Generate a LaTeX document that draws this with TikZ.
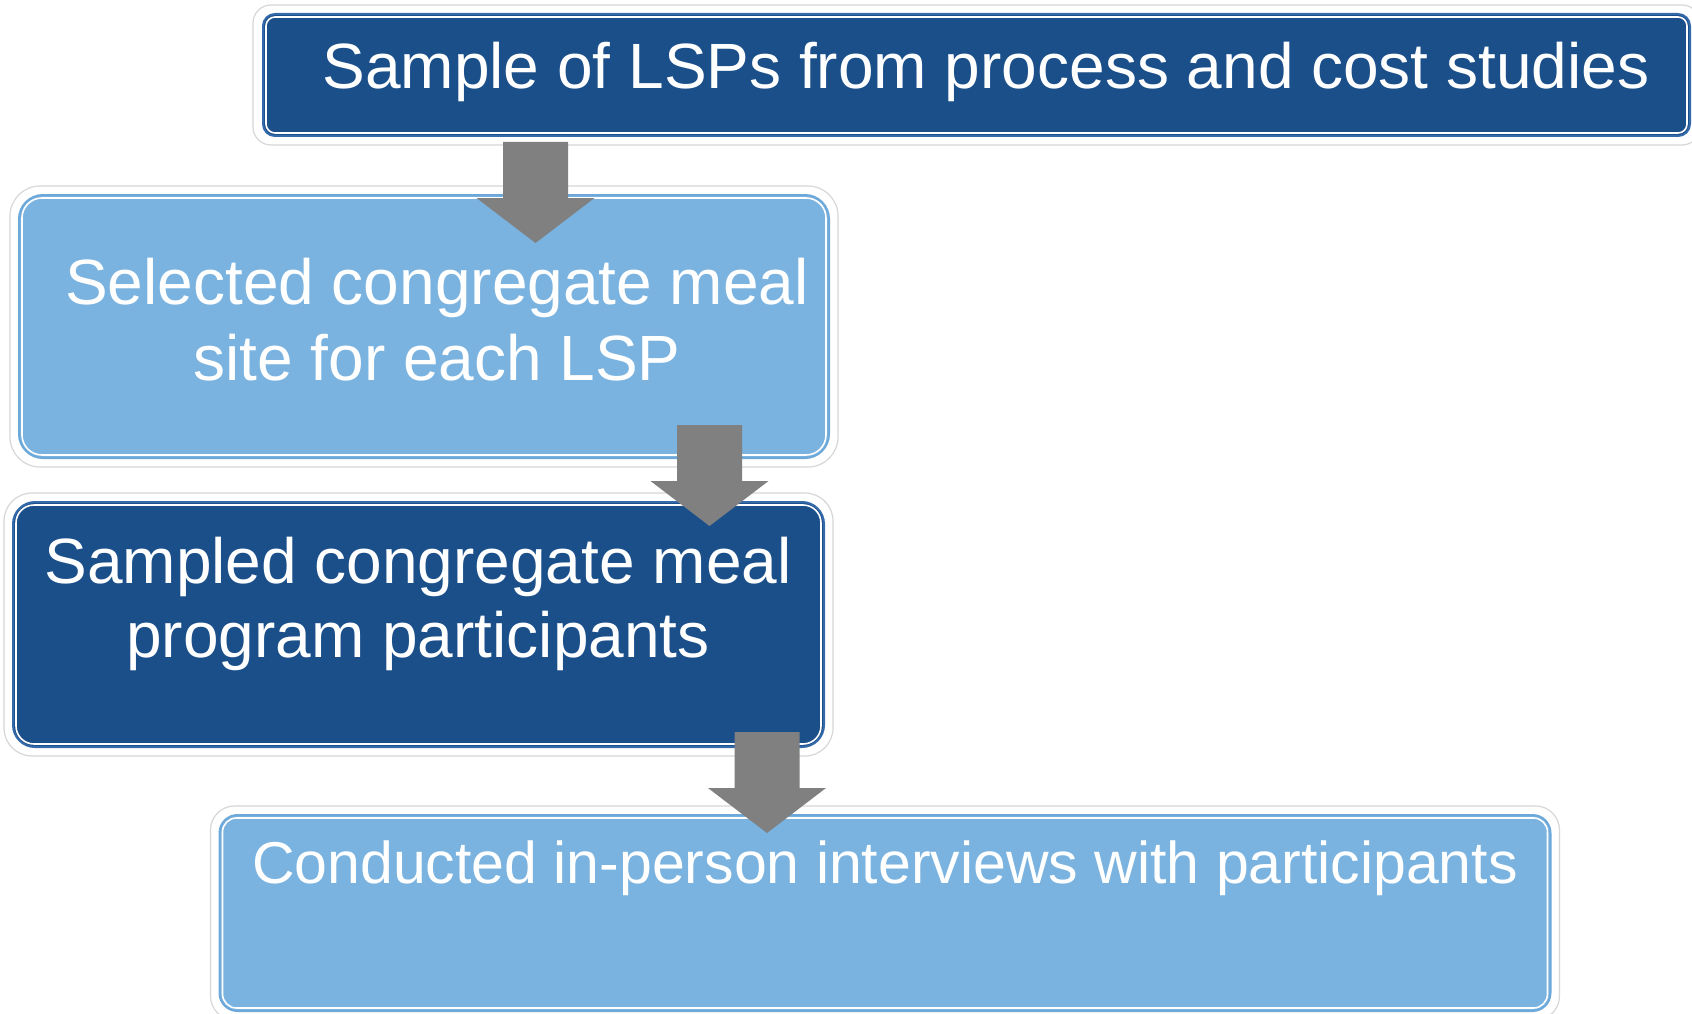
\documentclass[tikz,border=0pt]{standalone}
\usepackage{fontspec}
\setmainfont{Liberation Sans}
\pgfdeclarelayer{bg}
\pgfsetlayers{bg,main}
\definecolor{darkfill}{RGB}{27,79,138}
\definecolor{darkline}{RGB}{52,105,170}
\definecolor{lightfill}{RGB}{122,179,223}
\definecolor{lightline}{RGB}{108,168,218}
\definecolor{haloline}{RGB}{215,215,215}
\definecolor{arrowgray}{RGB}{128,128,128}
\tikzset{
  boxbase/.style={rectangle, inner sep=0pt, line width=2pt},
  darkbox/.style={boxbase, fill=darkfill, draw=darkline},
  lightbox/.style={boxbase, fill=lightfill, draw=lightline},
  halo/.style={fill=white, draw=haloline, line width=1.2pt},
  innerline/.style={draw=white, line width=1.6pt},
  boxtext/.style={text=white, inner sep=0pt, anchor=base, font=\fontsize{64}{75}\selectfont},
  smalltext/.style={boxtext, font=\fontsize{59}{70}\selectfont},
  blockarrow/.style={fill=arrowgray, draw=none}
}
\begin{document}
\begin{tikzpicture}[x=1pt,y=-1pt]
\useasboundingbox (0,0) rectangle (1692,1014);

% boxes
\node[darkbox, minimum width=1427pt, minimum height=122pt, rounded corners=12pt] (b1) at (976.5,75) {};
\node[lightbox, minimum width=810pt, minimum height=263pt, rounded corners=24pt] (b2) at (424,326.5) {};
\node[darkbox, minimum width=811pt, minimum height=245pt, rounded corners=22pt] (b3) at (418.5,624.5) {};
\node[lightbox, minimum width=1331pt, minimum height=196pt, rounded corners=18pt] (b4) at (885,913) {};

% background, halos and inner white lines
\begin{pgfonlayer}{bg}
\fill[white] (0,0) rectangle (1692,1014);
\draw[halo, rounded corners=18pt] ([shift={(-9,-8)}]b1.north west) rectangle ([shift={(9,8)}]b1.south east);
\draw[halo, rounded corners=30pt] ([shift={(-8,-8)}]b2.north west) rectangle ([shift={(8,8)}]b2.south east);
\draw[halo, rounded corners=28pt] ([shift={(-8,-8)}]b3.north west) rectangle ([shift={(8,8)}]b3.south east);
\draw[halo, rounded corners=24pt] ([shift={(-8,-8)}]b4.north west) rectangle ([shift={(8,8)}]b4.south east);
\end{pgfonlayer}
\draw[innerline, rounded corners=9pt] ([shift={(4,4)}]b1.north west) rectangle ([shift={(-4,-4)}]b1.south east);
\draw[innerline, rounded corners=20pt] ([shift={(4,4)}]b2.north west) rectangle ([shift={(-4,-4)}]b2.south east);
\draw[innerline, rounded corners=18pt] ([shift={(4,4)}]b3.north west) rectangle ([shift={(-4,-4)}]b3.south east);
\draw[innerline, rounded corners=14pt] ([shift={(4,4)}]b4.north west) rectangle ([shift={(-4,-4)}]b4.south east);

% texts
\node[boxtext] (t1) at (986,89) {Sample of LSPs from process and cost studies};
\node[boxtext] (t2a) at (437,304) {Selected congregate meal};
\node[boxtext] (t2b) at (437,380) {site for each LSP};
\node[boxtext] (t3a) at (418,583) {Sampled congregate meal};
\node[boxtext] (t3b) at (418,657) {program participants};
\node[smalltext] (t4) at (885,883) {Conducted in-person interviews with participants};

% block arrows
\coordinate (a1) at (535.5,142);
\coordinate (a2) at (709.5,425);
\coordinate (a3) at (767,732);
\foreach \c in {a1,a2,a3}{
  \fill[blockarrow] ([shift={(-32.5,0)}]\c) -- ([shift={(32.5,0)}]\c) -- ([shift={(32.5,56)}]\c)
    -- ([shift={(59,56)}]\c) -- ([shift={(0,101)}]\c) -- ([shift={(-59,56)}]\c)
    -- ([shift={(-32.5,56)}]\c) -- cycle;
}
\end{tikzpicture}
\end{document}
